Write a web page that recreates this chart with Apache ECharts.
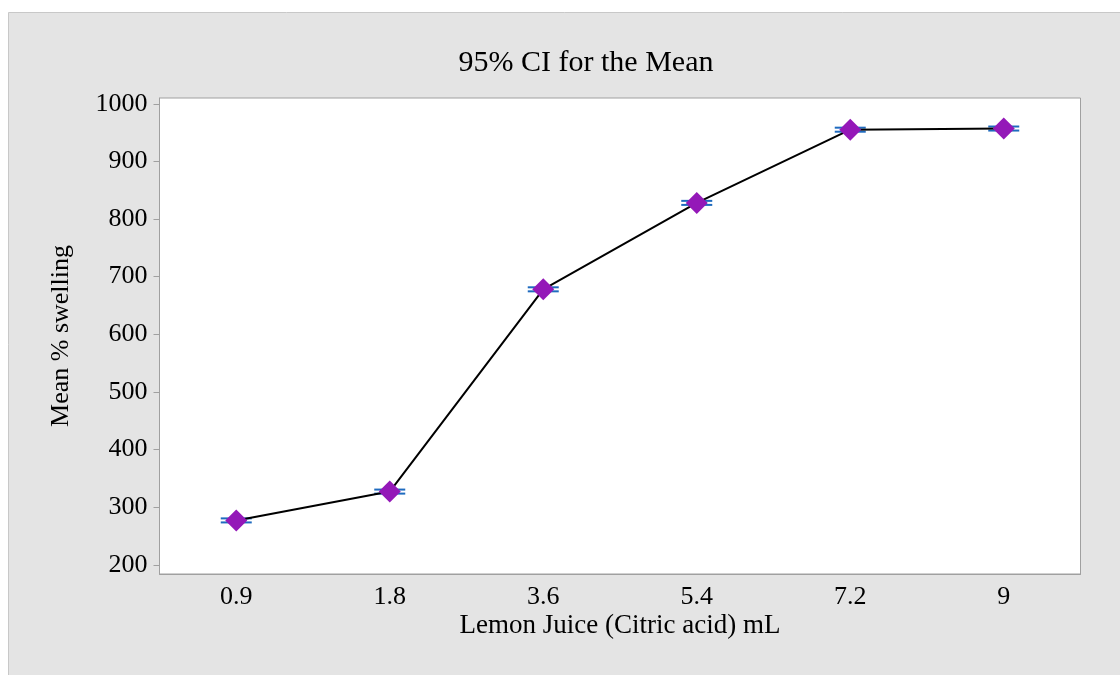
<!DOCTYPE html>
<html>
<head>
<meta charset="utf-8">
<script src="https://cdn.jsdelivr.net/npm/echarts@6/dist/echarts.min.js"></script>
<style>
  html, body { margin: 0; padding: 0; background: #ffffff; }
  #chart { width: 1120px; height: 675px; }
</style>
</head>
<body>
<div id="chart"></div>
<script>
// Lemon juice dose levels (mL) and mean % swelling with 95% CI
const categories = ['0.9', '1.8', '3.6', '5.4', '7.2', '9'];
const meanSwelling = [277, 327, 678, 828, 955, 957];
const ciLower = [273.5, 323.5, 674.5, 824.5, 951.5, 953.5];
const ciUpper = [280.5, 330.5, 681.5, 831.5, 958.5, 960.5];
const yTicks = [200, 300, 400, 500, 600, 700, 800, 900, 1000];

const serif = "'Liberation Serif', 'Times New Roman', serif";
const axisGray = '#a0a0a0';

const chart = echarts.init(document.getElementById('chart'), null, { renderer: 'canvas' });

const ciData = categories.map((c, i) => [i, ciLower[i], ciUpper[i]]);

chart.setOption({
  backgroundColor: '#ffffff',
  animation: false,
  graphic: [{
    type: 'rect',
    z: -100,
    silent: true,
    shape: { x: 8.5, y: 12.5, width: 1200, height: 800 },
    style: { fill: '#e4e4e4', stroke: '#c8c8c8', lineWidth: 1 }
  }],
  title: {
    text: '95% CI for the Mean',
    left: 581,
    top: 43,
    textAlign: 'center',
    textStyle: { fontFamily: serif, fontWeight: 'normal', fontSize: 30, color: '#000' }
  },
  grid: {
    left: 159.5, right: 39.5, top: 98, bottom: 101,
    show: true, backgroundColor: '#ffffff', borderColor: axisGray, borderWidth: 1
  },
  xAxis: {
    type: 'category',
    data: categories,
    boundaryGap: true,
    name: 'Lemon Juice (Citric acid) mL',
    nameLocation: 'middle',
    nameGap: 38,
    nameMoveOverlap: false,
    nameTextStyle: { fontFamily: serif, fontSize: 27, color: '#000' },
    axisLine: { lineStyle: { color: axisGray, width: 1 } },
    axisTick: { alignWithLabel: true, length: 6, lineStyle: { color: axisGray } },
    axisLabel: { fontFamily: serif, fontSize: 26, color: '#000', margin: 10 },
    splitLine: { show: false }
  },
  yAxis: {
    type: 'value',
    min: 184,
    max: 1010,
    name: 'Mean % swelling',
    nameLocation: 'middle',
    nameGap: 85,
    nameMoveOverlap: false,
    nameTextStyle: { fontFamily: serif, fontSize: 26, color: '#000' },
    axisLine: { show: true, lineStyle: { color: axisGray, width: 1 } },
    axisTick: { show: true, length: 6, customValues: yTicks, lineStyle: { color: axisGray } },
    axisLabel: {
      fontFamily: serif, fontSize: 26, color: '#000', margin: 12,
      customValues: yTicks,
      formatter: function (v) { return String(v); }
    },
    splitLine: { show: false }
  },
  series: [
    {
      type: 'custom',
      z: 1,
      data: ciData,
      encode: { x: 0, y: [1, 2] },
      renderItem: function (params, api) {
        const lo = api.coord([api.value(0), api.value(1)]);
        const hi = api.coord([api.value(0), api.value(2)]);
        const half = 15.5;
        const style = { stroke: '#1f6bbf', lineWidth: 2 };
        return {
          type: 'group',
          children: [
            { type: 'line', shape: { x1: lo[0] - half, y1: lo[1], x2: lo[0] + half, y2: lo[1] }, style: style },
            { type: 'line', shape: { x1: hi[0] - half, y1: hi[1], x2: hi[0] + half, y2: hi[1] }, style: style }
          ]
        };
      }
    },
    {
      type: 'line',
      z: 3,
      data: meanSwelling,
      symbol: 'diamond',
      symbolSize: 22,
      showAllSymbol: true,
      lineStyle: { color: '#000', width: 2 },
      itemStyle: { color: '#9418b8' }
    }
  ]
});
</script>
</body>
</html>
